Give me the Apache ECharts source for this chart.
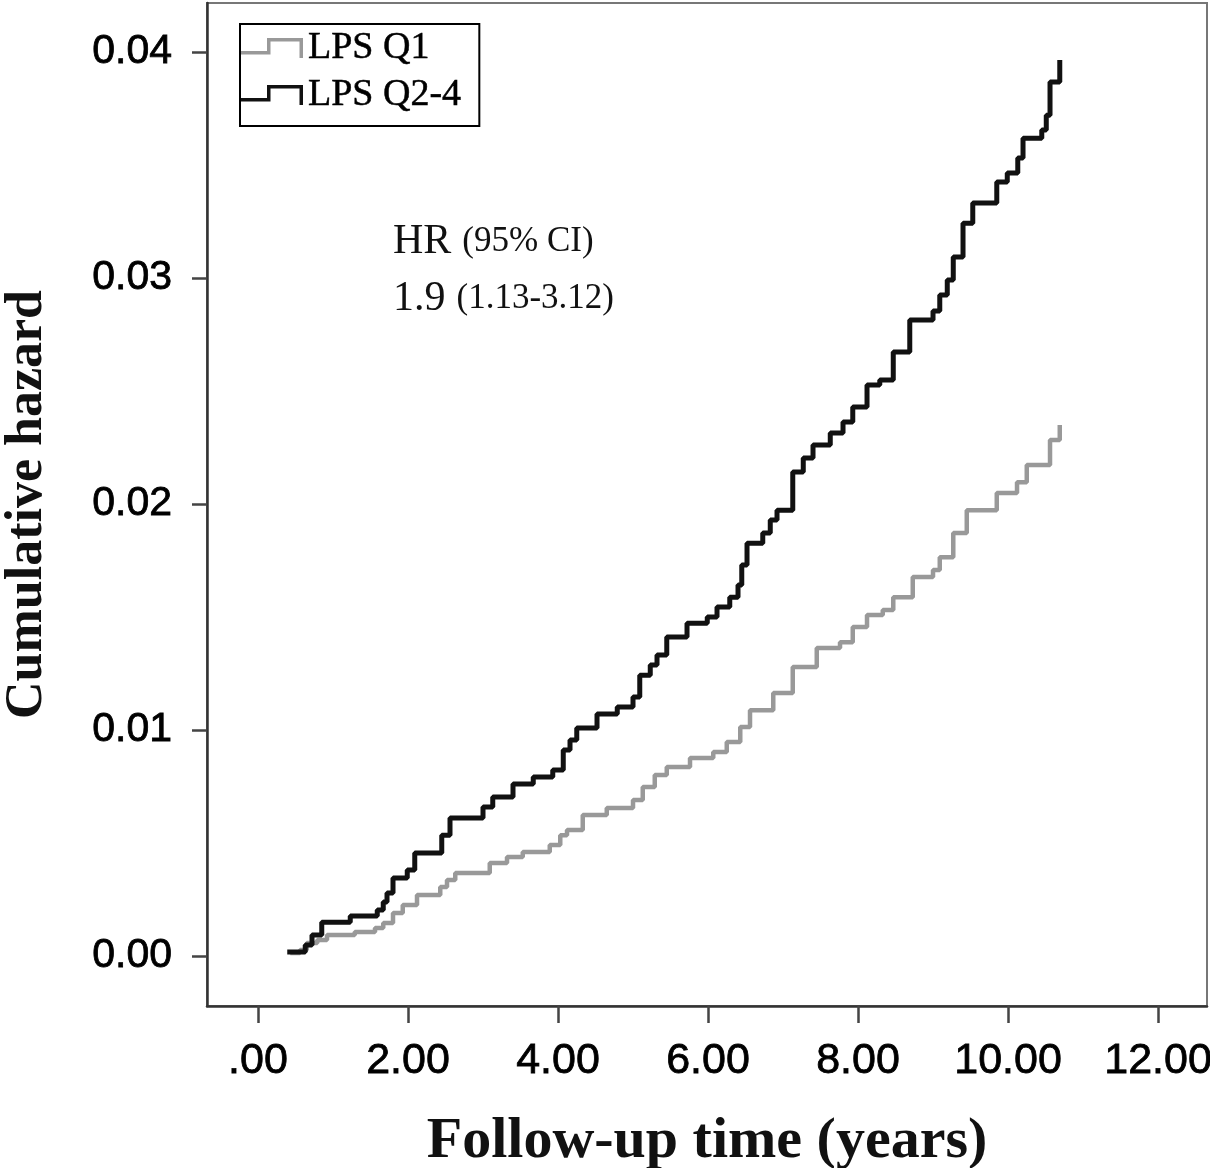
<!DOCTYPE html>
<html>
<head>
<meta charset="utf-8">
<script src="https://cdn.jsdelivr.net/npm/echarts@6/dist/echarts.min.js"></script>
<style>
  html, body { margin: 0; padding: 0; background: #fff; }
  #chart { width: 1210px; height: 1168px; }
</style>
</head>
<body>
<div id="chart"></div>
<script>
// Cumulative hazard step curves

// LPS Q1 (grey)
var q1Time = [0.43, 0.56, 0.65, 0.79, 0.92, 1.29, 1.56, 1.67, 1.80, 1.93,
    2.12, 2.43, 2.52, 2.63, 3.09, 3.32, 3.53, 3.89, 4.03, 4.12,
    4.33, 4.65, 5.00, 5.13, 5.29, 5.45, 5.76, 6.07, 6.25, 6.43,
    6.56, 6.87, 7.13, 7.45, 7.76, 7.93, 8.12, 8.33, 8.47, 8.73,
    9.00, 9.09, 9.27, 9.45, 9.85, 10.12, 10.25, 10.56, 10.69];
var q1Hazard = [0.00013, 0.00027, 0.00058, 0.00071, 0.00093, 0.00106, 0.00124, 0.00146, 0.00190, 0.00226,
    0.00270, 0.00305, 0.00336, 0.00367, 0.00412, 0.00438, 0.00460, 0.00491, 0.00535, 0.00558,
    0.00624, 0.00655, 0.00690, 0.00748, 0.00801, 0.00836, 0.00876, 0.00903, 0.00947, 0.01013,
    0.01088, 0.01164, 0.01279, 0.01363, 0.01389, 0.01456, 0.01509, 0.01531, 0.01588, 0.01677,
    0.01708, 0.01765, 0.01872, 0.01973, 0.02049, 0.02097, 0.02173, 0.02283, 0.02350];

// LPS Q2-4 (black)
var q24Time = [0.39, 0.63, 0.72, 0.85, 1.23, 1.59, 1.67, 1.72, 1.80, 1.99,
    2.09, 2.45, 2.56, 3.00, 3.13, 3.40, 3.67, 3.93, 4.07, 4.16,
    4.25, 4.52, 4.79, 5.00, 5.09, 5.23, 5.32, 5.45, 5.72, 5.99,
    6.12, 6.29, 6.40, 6.45, 6.52, 6.73, 6.83, 6.92, 7.13, 7.27,
    7.40, 7.63, 7.80, 7.93, 8.12, 8.29, 8.47, 8.69, 9.00, 9.09,
    9.19, 9.27, 9.40, 9.53, 9.85, 9.99, 10.13, 10.20, 10.45, 10.51,
    10.56, 10.69];
var q24Hazard = [0.00018, 0.00049, 0.00093, 0.00150, 0.00177, 0.00204, 0.00239, 0.00279, 0.00345, 0.00381,
    0.00456, 0.00535, 0.00611, 0.00659, 0.00704, 0.00761, 0.00792, 0.00823, 0.00912, 0.00956,
    0.01009, 0.01071, 0.01102, 0.01146, 0.01243, 0.01288, 0.01332, 0.01412, 0.01473, 0.01500,
    0.01544, 0.01588, 0.01642, 0.01730, 0.01827, 0.01872, 0.01929, 0.01973, 0.02142, 0.02204,
    0.02261, 0.02314, 0.02363, 0.02429, 0.02527, 0.02549, 0.02673, 0.02814, 0.02854, 0.02925,
    0.02991, 0.03093, 0.03243, 0.03332, 0.03425, 0.03465, 0.03531, 0.03619, 0.03655, 0.03720,
    0.03867, 0.03965];

// Axis ticks and their printed labels
var xTicks = [0, 2, 4, 6, 8, 10, 12];
var xTickLabels = ['.00', '2.00', '4.00', '6.00', '8.00', '10.00', '12.00'];
var yTicks = [0, 0.01, 0.02, 0.03, 0.04];
var yTickLabels = ['0.00', '0.01', '0.02', '0.03', '0.04'];

var seriesNames = ['LPS Q1', 'LPS Q2-4'];

function zip(xs, ys) {
    var out = [];
    for (var i = 0; i < xs.length; i++) out.push([xs[i], ys[i]]);
    return out;
}

function tickLabel(ticks, labels) {
    return function (v) {
        for (var i = 0; i < ticks.length; i++) {
            if (Math.abs(ticks[i] - v) < 1e-9) return labels[i];
        }
        return '';
    };
}

// step shaped legend icon
var stepIcon = 'path://M0,14 L26,14 L26,1 L62,1 L62,21 L58.5,21 L58.5,4.5 L29.5,4.5 L29.5,17.5 L0,17.5 Z';

var chart = echarts.init(document.getElementById('chart'));

chart.setOption({
    animation: false,
    backgroundColor: '#fff',

    grid: {
        left: 207,
        right: 3,
        top: 3,
        bottom: 162,
        containLabel: false,
        outerBoundsMode: 'none',
        show: true,
        borderColor: '#777',
        borderWidth: 2
    },

    // HR annotation
    title: {
        left: 388,
        top: 208,
        text: '{a|HR} {b|(95% CI)}\n{a|1.9} {b|(1.13-3.12)}',
        textStyle: {
            rich: {
                a: { fontFamily: 'Liberation Serif', fontWeight: 'normal', fontSize: 42, color: '#111', lineHeight: 57, padding: [0, 6, 0, 0] },
                b: { fontFamily: 'Liberation Serif', fontWeight: 'normal', fontSize: 35, color: '#111', lineHeight: 57 }
            }
        }
    },

    legend: {
        orient: 'vertical',
        left: 240,
        top: 24,
        padding: [4, 18, 11, 1],
        itemGap: 7,
        itemWidth: 62,
        itemHeight: 22,
        borderColor: '#000',
        borderWidth: 2,
        itemStyle: { borderWidth: 0 },
        textStyle: {
            fontFamily: 'Liberation Serif',
            fontSize: 38,
            lineHeight: 40,
            color: '#000',
            textBorderColor: '#000',
            textBorderWidth: 0.5
        },
        data: [
            { name: seriesNames[0], icon: stepIcon },
            { name: seriesNames[1], icon: stepIcon }
        ]
    },

    xAxis: {
        type: 'value',
        min: -0.68,
        max: 12.653,
        name: 'Follow-up time (years)',
        nameLocation: 'middle',
        nameGap: 107,
        nameTextStyle: {
            fontFamily: 'Liberation Serif',
            fontWeight: 'bold',
            fontSize: 58,
            color: '#111'
        },
        axisLine: { show: true, onZero: false, lineStyle: { color: '#333', width: 2.5 } },
        axisTick: {
            show: true,
            length: 17,
            customValues: xTicks,
            lineStyle: { color: '#444', width: 2.5 }
        },
        axisLabel: {
            customValues: xTicks,
            margin: 34,
            fontFamily: 'Liberation Sans',
            fontSize: 43,
            color: '#000',
            textBorderColor: '#000',
            textBorderWidth: 0.8,
            formatter: tickLabel(xTicks, xTickLabels)
        },
        splitLine: { show: false }
    },

    yAxis: {
        type: 'value',
        min: -0.00221,
        max: 0.04217,
        name: 'Cumulative hazard',
        nameLocation: 'middle',
        nameGap: 153,
        nameTextStyle: {
            fontFamily: 'Liberation Serif',
            fontWeight: 'bold',
            fontSize: 52,
            color: '#111'
        },
        axisLine: { show: true, onZero: false, lineStyle: { color: '#333', width: 2.5 } },
        axisTick: {
            show: true,
            length: 15,
            customValues: yTicks,
            lineStyle: { color: '#444', width: 2.5 }
        },
        axisLabel: {
            customValues: yTicks,
            margin: 35,
            fontFamily: 'Liberation Sans',
            fontSize: 41,
            color: '#000',
            textBorderColor: '#000',
            textBorderWidth: 0.8,
            formatter: tickLabel(yTicks, yTickLabels)
        },
        splitLine: { show: false }
    },

    series: [
        {
            name: seriesNames[0],
            type: 'line',
            step: 'end',
            symbol: 'none',
            color: '#999999',
            lineStyle: { color: '#999999', width: 4.5 },
            data: zip(q1Time, q1Hazard)
        },
        {
            name: seriesNames[1],
            type: 'line',
            step: 'end',
            symbol: 'none',
            color: '#111111',
            lineStyle: { color: '#111111', width: 5 },
            data: zip(q24Time, q24Hazard)
        }
    ]
});
</script>
</body>
</html>
